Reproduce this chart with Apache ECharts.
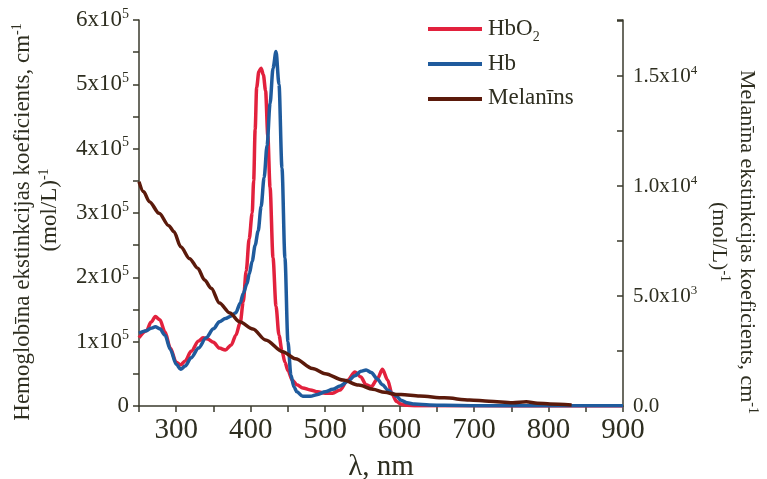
<!DOCTYPE html>
<html>
<head>
<meta charset="utf-8">
<script src="https://cdn.jsdelivr.net/npm/echarts@6/dist/echarts.min.js"></script>
<style>
html,body{margin:0;padding:0;background:#fff;}
#chart{width:767px;height:479px;}
</style>
</head>
<body>
<div id="chart"></div>
<script>
// ---- data ----
const seriesNames = ['HbO2', 'Hb', 'Melanīns'];
const legendLabels = ['{a|HbO}{s|2}', '{a|Hb}', '{a|Melanīns}'];

const hbo2Wl  = [250,260,266,272,278,285,292,300,306,312,320,330,336,342,350,358,366,374,380,386,390,394,398,402,404,406,408,411,414,417,420,423,426,430,434,438,442,446,450,456,462,470,480,490,500,510,520,530,540,548,555,562,570,577,584,590,596,602,610,620,640,700,800,900];
const hbo2Val = [106000,117000,130000,139000,134000,115000,90000,68000,64000,70000,85000,101000,106000,104000,99000,90000,87000,95000,110000,130000,162000,210000,260000,300000,350000,430000,495000,520000,525000,515000,490000,420000,340000,230000,155000,110000,86000,68000,55000,40000,33000,28000,25000,22000,20000,20000,25000,40000,53000,45000,33000,30000,42000,57000,40000,18000,7000,3000,1000,500,300,200,150,100];

const hbWl  = [250,260,266,272,278,285,292,300,306,312,320,330,340,350,358,366,374,380,386,390,395,398,402,406,410,414,418,422,426,430,434,438,442,446,450,454,458,462,470,480,490,500,510,520,530,540,548,555,562,570,577,584,590,596,602,610,620,640,660,700,750,800,850,900];
const hbVal = [113000,117000,121000,123000,120000,110000,88000,65000,57000,62000,75000,90000,106000,120000,131000,136000,140000,145000,160000,175000,190000,205000,225000,250000,272000,310000,355000,405000,470000,525000,551000,500000,370000,230000,100000,48000,30000,22000,15000,15000,18000,22000,26000,31000,38000,47000,54000,56000,52000,42000,33000,25000,20000,15000,9000,5000,3000,1500,1000,500,300,300,300,300];

const melWl  = [250,256,264,277,290,297,306,318,329,338,347,358,372,385,403,420,443,460,483,500,524,545,564,580,596,602,627,660,694,720,752,770,785,802,831];
const melVal = [10200,9750,9290,8760,8200,7920,7240,6700,6260,5730,5350,4680,4230,3830,3500,3000,2470,2150,1710,1470,1180,950,760,620,520,520,455,370,273,220,150,195,130,91,45];

const xTicks  = [300,400,500,600,700,800,900];
const yLeftMantissa  = {100000:'1',200000:'2',300000:'3',400000:'4',500000:'5',600000:'6'};
const yRightLabels = {0:['0.0',''],5000:['5.0x10','3'],10000:['1.0x10','4'],15000:['1.5x10','4']};

// ---- chart ----
const FONT = '"Liberation Serif", serif';
const TXT = '#2e2e20';
const AX = '#3a3a2c';
const colors = ['#e2213d', '#1f5b9d', '#5b1a0b'];

function zip(a, b){ return a.map((x,i)=>[x,b[i]]); }

const chart = echarts.init(document.getElementById('chart'), null, {renderer:'canvas'});

const legendTextY = [29, 64, 98];
const legendTextGraphics = legendLabels.map((t, i) => ({
  type: 'text', x: 488, y: legendTextY[i],
  style: {
    text: t, align: 'left', verticalAlign: 'middle',
    rich: {
      a: {fontFamily: FONT, fontSize: 23, fill: TXT, lineHeight: 30},
      s: {fontFamily: FONT, fontSize: 14, fill: TXT, lineHeight: 14, verticalAlign: 'bottom'}
    }
  }
}));

const option = {
  animation: false,
  backgroundColor: '#ffffff',
  textStyle: {fontFamily: FONT},
  grid: {left:139, right:144, top:20, bottom:73, containLabel:false, outerBoundsMode: 'none'},
  legend: {
    orient: 'vertical',
    left: 428, top: 27, padding: 0,
    itemWidth: 54, itemHeight: 4, itemGap: 31,
    icon: 'rect',
    data: seriesNames,
    formatter: () => '',
    textStyle: {fontSize: 1, lineHeight: 1}
  },
  xAxis: {
    type: 'value', min: 250, max: 900, interval: 50,
    name: 'λ, nm', nameLocation: 'middle', nameGap: 47,
    nameTextStyle: {fontFamily: FONT, fontSize: 29, color: TXT},
    axisLine: {show: true, lineStyle: {color: AX, width: 1.5}},
    axisTick: {show: true, length: 6, lineStyle: {color: AX, width: 1.5}},
    splitLine: {show: false},
    axisLabel: {
      fontFamily: FONT, fontSize: 29, color: TXT, margin: 10,
      formatter: v => xTicks.indexOf(v) >= 0 ? String(v) : ''
    }
  },
  yAxis: [
    {
      type: 'value', min: 0, max: 600000, interval: 50000, position: 'left',
      axisLine: {show: true, lineStyle: {color: AX, width: 1.5}},
      axisTick: {show: true, length: 6, lineStyle: {color: AX, width: 1.5}},
      splitLine: {show: false},
      axisLabel: {
        margin: 10, color: TXT, fontFamily: FONT,
        formatter: v => v === 0 ? '{a|0}' : (yLeftMantissa[v] ? '{a|' + yLeftMantissa[v] + 'x10}{s|5}' : ''),
        rich: {
          a: {fontFamily: FONT, fontSize: 23, color: TXT, lineHeight: 26},
          s: {fontFamily: FONT, fontSize: 14, color: TXT, lineHeight: 14, verticalAlign: 'top'}
        }
      }
    },
    {
      type: 'value', min: 0, max: 17550, interval: 2500, position: 'right',
      axisLine: {show: true, lineStyle: {color: AX, width: 1.5}},
      axisTick: {show: true, inside: true, length: 6, lineStyle: {color: AX, width: 1.5}},
      splitLine: {show: false},
      axisLabel: {
        margin: 10, color: TXT, fontFamily: FONT,
        formatter: v => {
          const l = yRightLabels[v];
          if (!l) return '';
          return l[1] ? '{a|' + l[0] + '}{s|' + l[1] + '}' : '{a|' + l[0] + '}';
        },
        rich: {
          a: {fontFamily: FONT, fontSize: 21, color: TXT, lineHeight: 24},
          s: {fontFamily: FONT, fontSize: 13, color: TXT, lineHeight: 13, verticalAlign: 'top'}
        }
      }
    }
  ],
  graphic: [
    {
      type: 'text', x: 23, y: 222, rotation: Math.PI / 2,
      style: {
        text: '{a|Hemoglobīna ekstinkcijas koeficients, cm}{s|-1}',
        align: 'center', verticalAlign: 'middle',
        rich: {
          a: {fontFamily: FONT, fontSize: 23, fill: TXT, lineHeight: 26},
          s: {fontFamily: FONT, fontSize: 14, fill: TXT, lineHeight: 14, verticalAlign: 'top'}
        }
      }
    },
    {
      type: 'text', x: 50, y: 210, rotation: Math.PI / 2,
      style: {
        text: '{a|(mol/L)}{s|-1}',
        align: 'center', verticalAlign: 'middle',
        rich: {
          a: {fontFamily: FONT, fontSize: 23, fill: TXT, lineHeight: 26},
          s: {fontFamily: FONT, fontSize: 14, fill: TXT, lineHeight: 14, verticalAlign: 'top'}
        }
      }
    },
    {
      type: 'text', x: 747, y: 242, rotation: -Math.PI / 2,
      style: {
        text: '{a|Melanīna ekstinkcijas koeficients, cm}{s|-1}',
        align: 'center', verticalAlign: 'middle',
        rich: {
          a: {fontFamily: FONT, fontSize: 22, fill: TXT, lineHeight: 26},
          s: {fontFamily: FONT, fontSize: 14, fill: TXT, lineHeight: 14, verticalAlign: 'top'}
        }
      }
    },
    {
      type: 'text', x: 719, y: 242, rotation: -Math.PI / 2,
      style: {
        text: '{a|(mol/L)}{s|-1}',
        align: 'center', verticalAlign: 'middle',
        rich: {
          a: {fontFamily: FONT, fontSize: 22, fill: TXT, lineHeight: 26},
          s: {fontFamily: FONT, fontSize: 14, fill: TXT, lineHeight: 14, verticalAlign: 'top'}
        }
      }
    }
  ].concat(legendTextGraphics),
  series: [
    {
      name: 'HbO2', type: 'line', yAxisIndex: 0, data: zip(hbo2Wl, hbo2Val),
      showSymbol: false, smooth: 0.3, smoothMonotone: 'x',
      lineStyle: {width: 3.5, color: colors[0]}, itemStyle: {color: colors[0]}
    },
    {
      name: 'Hb', type: 'line', yAxisIndex: 0, data: zip(hbWl, hbVal),
      showSymbol: false, smooth: 0.3, smoothMonotone: 'x',
      lineStyle: {width: 3.5, color: colors[1]}, itemStyle: {color: colors[1]}
    },
    {
      name: 'Melanīns', type: 'line', yAxisIndex: 1, data: zip(melWl, melVal),
      showSymbol: false, smooth: 0.3, smoothMonotone: 'x',
      lineStyle: {width: 3.5, color: colors[2]}, itemStyle: {color: colors[2]}
    }
  ]
};
chart.setOption(option);
</script>
</body>
</html>
